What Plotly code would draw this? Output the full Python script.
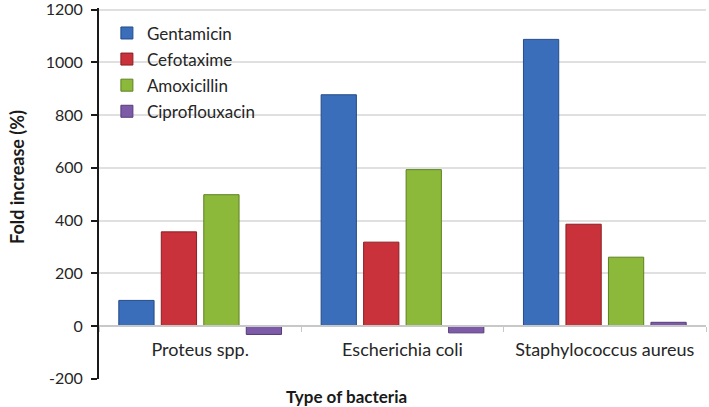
import plotly.graph_objects as go

categories = ["Proteus spp.", "Escherichia coli", "Staphylococcus aureus"]
gentamicin = [97, 877, 1087]
cefotaxime = [357, 318, 386]
amoxicillin = [498, 593, 261]
ciproflouxacin = [-32, -26, 14]
ytickvals = [-200, 0, 200, 400, 600, 800, 1000, 1200]
yticktext = ["-200", "0", "200", "400", "600", "800", "1000", "1200"]

series = [
    ("Gentamicin", gentamicin, "#3A6DBA", "#254C88"),
    ("Cefotaxime", cefotaxime, "#C9323A", "#8A1F24"),
    ("Amoxicillin", amoxicillin, "#8CB93A", "#5C8222"),
    ("Ciproflouxacin", ciproflouxacin, "#7E5BA8", "#553C78"),
]

FONT = "Lato"
YMIN, YMAX = -201, 1206
fig = go.Figure()
for i, (name, vals, col, edge) in enumerate(series):
    fig.add_trace(go.Bar(
        x=categories, y=vals, name=name, legendgroup=f"g{i}",
        marker=dict(color=col, line=dict(color=edge, width=1)),
    ))

fig.update_layout(
    width=709, height=407,
    margin=dict(l=99, r=3, t=8, b=28, autoexpand=False),
    paper_bgcolor="white", plot_bgcolor="white",
    barmode="group", bargap=0.16, bargroupgap=0.17,
    font=dict(family=FONT, size=17, color="#262626"),
    showlegend=True,
    legend=dict(x=0.013, y=0.98, xanchor="left", yanchor="top",
                bgcolor="rgba(0,0,0,0)", tracegroupgap=1,
                font=dict(family=FONT, size=17, color="#262626")),
    xaxis=dict(
        anchor="free", position=(0 - YMIN) / (YMAX - YMIN), automargin=False,
        showline=True, linecolor="#C8C8C8", linewidth=1.5,
        ticks="outside", tickson="boundaries", ticklen=5, tickcolor="#C8C8C8",
        ticklabelstandoff=8,
        tickfont=dict(family=FONT, size=18, color="#262626"),
        showgrid=False, zeroline=False,
    ),
    yaxis=dict(
        range=[YMIN, YMAX], tickmode="array", tickvals=ytickvals, ticktext=yticktext,
        automargin=False, ticklabeloverflow="allow",
        showline=True, linecolor="#1a1a1a", linewidth=2,
        ticks="outside", ticklen=6, tickcolor="#1a1a1a", tickwidth=2,
        ticklabelstandoff=5,
        showgrid=True, gridcolor="#E0E0E0", gridwidth=1.5,
        zeroline=False,
        tickfont=dict(family=FONT, size=16, color="#262626"),
    ),
    annotations=[
        dict(text="<b>Type of bacteria</b>", xref="paper", yref="paper",
             x=0.407, y=0, yshift=-17, xanchor="center", yanchor="middle",
             showarrow=False, font=dict(family=FONT, size=17, color="#1a1a1a")),
        dict(text="<b>Fold increase (%)</b>", xref="paper", yref="paper",
             x=0, xshift=-82, y=(379 - 177) / 371, textangle=-90,
             xanchor="center", yanchor="middle",
             showarrow=False, font=dict(family=FONT, size=18, color="#1a1a1a")),
    ],
)

fig.write_html("out.html", config={"displayModeBar": False},
               post_script="document.body.style.margin='0';document.body.style.overflow='hidden';")
